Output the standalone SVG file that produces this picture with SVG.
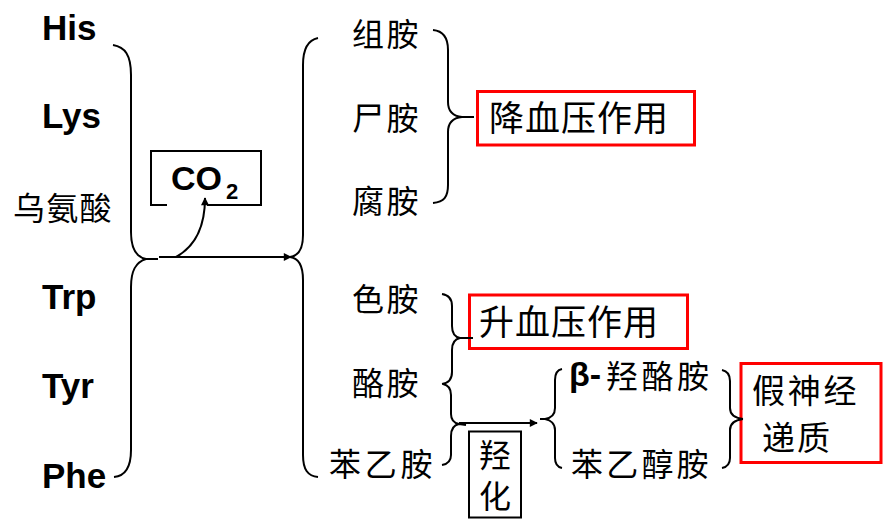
<svg xmlns="http://www.w3.org/2000/svg" width="883" height="520" viewBox="0 0 883 520">
<defs>
<marker id="ah" viewBox="0 0 10 10" refX="9" refY="5" markerWidth="10" markerHeight="8" markerUnits="userSpaceOnUse" orient="auto">
<path d="M0,0 L10,5 L0,10 z" fill="#000"/>
</marker>
<style>
.lat{font-family:"Liberation Sans",Arial,sans-serif;font-weight:bold;fill:#000}
.cjk{font-family:"Noto Sans CJK SC","Noto Sans",sans-serif;fill:#000}
.br{fill:none;stroke:#000;stroke-width:2}
.red{fill:none;stroke:#ff0000;stroke-width:3}
.blk{fill:none;stroke:#000;stroke-width:2}
</style>
</defs>
<rect width="883" height="520" fill="#fff"/>

<g id="amino-acids">
<text class="lat" x="42" y="39.5" font-size="35">His</text>
<text class="lat" x="42" y="128" font-size="35">Lys</text>
<text class="cjk" x="13" y="219.5" font-size="32" letter-spacing="1.3">乌氨酸</text>
<text class="lat" x="42" y="309" font-size="35">Trp</text>
<text class="lat" x="42" y="398" font-size="35">Tyr</text>
<text class="lat" x="42" y="488" font-size="35">Phe</text>
</g>

<g id="co2">
<path class="blk" d="M167,205 L151,205 L151,151 L261,151 L261,205 L207,205"/>
<text class="lat" x="171" y="190" font-size="34">CO</text>
<text class="lat" x="226" y="199" font-size="22">2</text>
</g>

<g id="amines">
<text class="cjk" x="352" y="45.5" font-size="32" letter-spacing="2.5">组胺</text>
<text class="cjk" x="352" y="129.5" font-size="32" letter-spacing="2.5">尸胺</text>
<text class="cjk" x="352" y="212.5" font-size="32" letter-spacing="2.5">腐胺</text>
<text class="cjk" x="352" y="310.5" font-size="32" letter-spacing="2.5">色胺</text>
<text class="cjk" x="352" y="394.5" font-size="32" letter-spacing="2.5">酪胺</text>
<text class="cjk" x="329" y="475.5" font-size="32" letter-spacing="3.7">苯乙胺</text>
</g>

<g id="lower-bp">
<rect class="red" x="477.5" y="91.5" width="217" height="53.5"/>
<text class="cjk" x="489" y="131" font-size="35" letter-spacing="1">降血压作用</text>
</g>

<g id="raise-bp">
<rect class="red" x="469.5" y="295" width="218" height="53.5"/>
<text class="cjk" x="479" y="334.5" font-size="35" letter-spacing="1">升血压作用</text>
</g>

<g id="hydroxylation">
<rect class="blk" x="469" y="431.5" width="52" height="86"/>
<text class="cjk" x="479" y="467" font-size="32">羟</text>
<text class="cjk" x="479" y="508" font-size="32">化</text>
</g>

<g id="products">
<text class="lat" x="569" y="386" font-size="34">β-</text>
<text class="cjk" x="606" y="387.5" font-size="32" letter-spacing="3.5">羟酪胺</text>
<text class="cjk" x="571" y="475.5" font-size="32" letter-spacing="3.2">苯乙醇胺</text>
</g>

<g id="false-neurotransmitter">
<rect class="red" x="741" y="363.5" width="140" height="99"/>
<text class="cjk" x="752" y="402.5" font-size="33" letter-spacing="2.7">假神经</text>
<text class="cjk" x="762" y="449.5" font-size="33" letter-spacing="2">递质</text>
</g>

<g id="connectors">
<path class="br" d="M113,45 C125,47 131,55 131,75 L131,232 C131,249 136,257 146,259 L158,259 M146,259 C136,262 131,270 131,287 L131,450 C131,468 125,476 114,477"/>
<path class="br" d="M159,257 L291,257" marker-end="url(#ah)"/>
<path class="br" d="M176,257 C196,246 205,226 205,198" marker-end="url(#ah)"/>
<path class="br" d="M318,38 C308,40 303,48 303,65 L303,235 C303,250 298,256 290,257 C298,258 303,264 303,280 L303,455 C303,470 308,476 318,477"/>
<path class="br" d="M433,30 C444,31 448,38 448,50 L448,102 C448,111 452,116 462,117 L474,117 M462,117 C452,118 448,123 448,132 L448,185 C448,197 444,202 433,203"/>
<path class="br" d="M442,294 C449,295 452,299 452,306 L452,326 C452,333 455,337 460,338 L473,338 M460,338 C455,339 452,343 452,350 L452,372 C452,379 449,383 442,384"/>
<path class="br" d="M443,384 C448,385 451,389 451,395 L451,414 C451,420 454,423 459,424 L466,425 M459,424 C454,425 451,429 451,436 L451,455 C451,461 448,464 442,465"/>
<path class="br" d="M459,423 L537,423" marker-end="url(#ah)"/>
<path class="br" d="M562,369 C557,370 555,374 555,380 L555,408 C555,415 551,418 545,419 L540,419 M545,419 C551,420 555,424 555,430 L555,458 C555,464 557,467 562,468"/>
<path class="br" d="M722,370 C727,371 730,375 730,381 L730,408 C730,415 735,418 743,419 M743,419 C735,420 730,423 730,430 L730,458 C730,464 727,467 722,468"/>
</g>
</svg>
